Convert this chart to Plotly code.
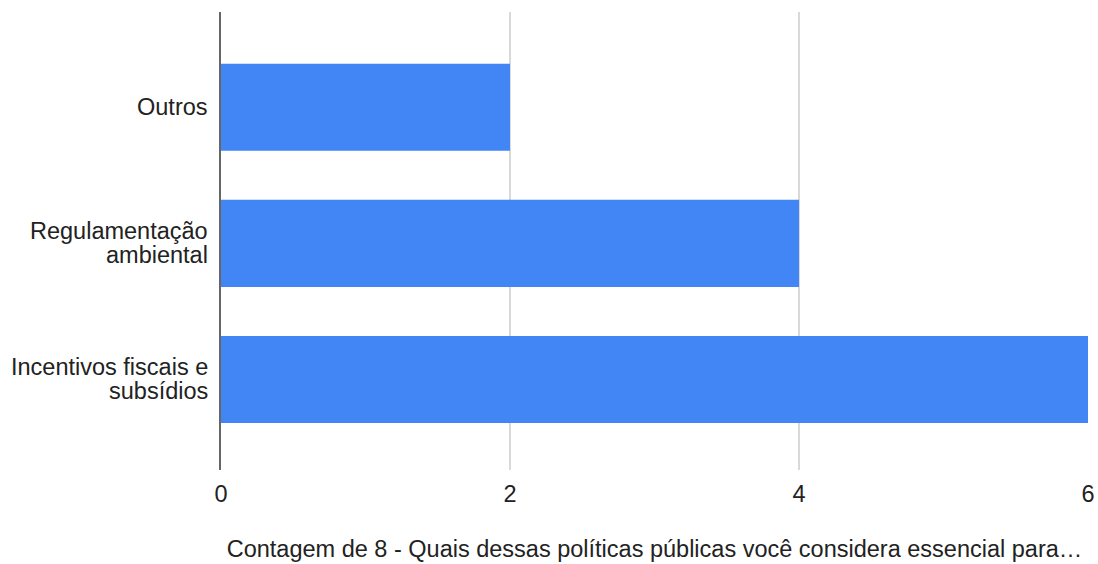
import plotly.graph_objects as go

categories = ["Incentivos fiscais e subsídios", "Regulamentação ambiental", "Outros"]
category_lines = [["Incentivos fiscais e", "subsídios"], ["Regulamentação", "ambiental"], ["Outros"]]
counts = [6, 4, 2]
x_ticks = [0, 2, 4, 6]
x_title = "Contagem de 8 - Quais dessas políticas públicas você considera essencial para…"

FONT = "Liberation Sans, Arial, sans-serif"
TEXT = "#222222"
LABEL_SIZE = 23.5
LINE_STEP = 24

fig = go.Figure(
    go.Bar(
        x=counts,
        y=categories,
        orientation="h",
        marker=dict(color="#4285F4", line=dict(width=0)),
        width=0.64,
    )
)

# Category labels drawn line by line for tight, right-aligned wrapping
annotations = []
for cat, lines in zip(categories, category_lines):
    n = len(lines)
    for i, line in enumerate(lines):
        offset = ((n - 1) / 2 - i) * LINE_STEP
        annotations.append(dict(
            text=line,
            x=0, xref="paper", xanchor="right", xshift=-11,
            y=cat, yref="y", yanchor="middle", yshift=offset,
            showarrow=False,
            font=dict(family=FONT, size=LABEL_SIZE, color=TEXT),
        ))

fig.update_layout(
    width=1098,
    height=564,
    margin=dict(l=221, r=10, t=12, b=94),
    paper_bgcolor="white",
    plot_bgcolor="white",
    font=dict(family=FONT, size=LABEL_SIZE, color=TEXT),
    showlegend=False,
    annotations=annotations,
    xaxis=dict(
        range=[0, 6.0],
        tickvals=x_ticks,
        automargin=False,
        showgrid=True,
        gridcolor="#d9d9d9",
        gridwidth=2,
        zeroline=False,
        ticks="outside",
        ticklen=3,
        tickcolor="rgba(0,0,0,0)",
        tickfont=dict(size=LABEL_SIZE, color=TEXT),
        title=dict(text=x_title, font=dict(size=LABEL_SIZE, color=TEXT), standoff=34),
    ),
    yaxis=dict(
        categoryorder="array",
        categoryarray=categories,
        range=[-0.665, 2.70],
        automargin=False,
        showline=True,
        linecolor="#666666",
        linewidth=2,
        showgrid=False,
        showticklabels=False,
        ticks="",
    ),
)

fig.write_html("out.html")
